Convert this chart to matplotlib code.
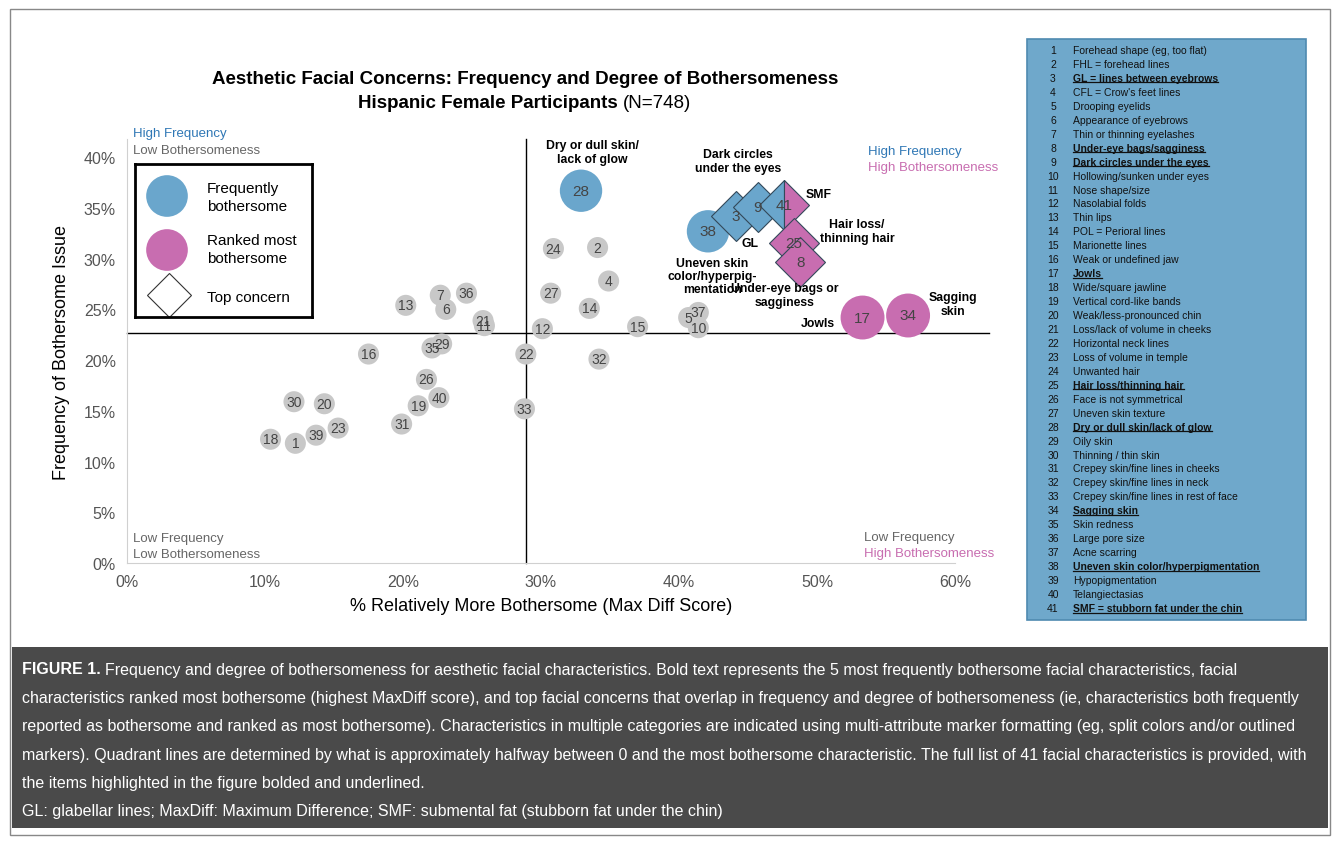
import matplotlib
matplotlib.use("Agg")
import matplotlib.pyplot as plt
from matplotlib.patches import Rectangle

plt.rcParams["font.family"] = ["Liberation Sans", "DejaVu Sans"]

W, H = 1341, 845
BLUE = "#6aa6cc"; PINK = "#c86db0"; GRAY = "#c8c8c8"

# ---- data ----
gray_ids = [1, 2, 4, 5, 6, 7, 10, 11, 12, 13, 14, 15, 16, 18, 19, 20, 21, 22, 23, 24, 26, 27, 29, 30, 31, 32, 33, 35, 36, 37, 39, 40]
gray_x = [12.2, 34.1, 34.9, 40.7, 23.1, 22.7, 41.4, 25.9, 30.1, 20.2, 33.5, 37.0, 17.5, 10.4, 21.1, 14.3, 25.8, 28.9, 15.3, 30.9, 21.7, 30.7, 22.8, 12.1, 19.9, 34.2, 28.8, 22.1, 24.6, 41.4, 13.7, 22.6]
gray_y = [11.8, 31.1, 27.8, 24.2, 25.0, 26.4, 23.2, 23.4, 23.1, 25.4, 25.1, 23.3, 20.6, 12.2, 15.5, 15.7, 23.9, 20.6, 13.3, 31.0, 18.1, 26.6, 21.6, 15.9, 13.7, 20.1, 15.2, 21.2, 26.6, 24.7, 12.6, 16.3]
freq_ids = [28, 38]; freq_x = [32.9, 42.1]; freq_y = [36.7, 32.7]
rank_ids = [17, 34]; rank_x = [53.3, 56.6]; rank_y = [24.2, 24.4]
top_ids = [3, 9, 41, 25, 8]
top_x = [44.1, 45.7, 47.6, 48.3, 48.8]
top_y = [34.2, 35.1, 35.3, 31.5, 29.7]
top_kind = ["freq", "freq", "both", "rank", "rank"]
quad_x, quad_y = 28.9, 22.7
x_ticks = [0, 10, 20, 30, 40, 50, 60]
y_ticks = [0, 5, 10, 15, 20, 25, 30, 35, 40]

items = ["Forehead shape (eg, too flat)", "FHL = forehead lines", "GL = lines between eyebrows",
         "CFL = Crow's feet lines", "Drooping eyelids", "Appearance of eyebrows", "Thin or thinning eyelashes",
         "Under-eye bags/sagginess", "Dark circles under the eyes", "Hollowing/sunken under eyes",
         "Nose shape/size", "Nasolabial folds", "Thin lips", "POL = Perioral lines", "Marionette lines",
         "Weak or undefined jaw", "Jowls", "Wide/square jawline", "Vertical cord-like bands",
         "Weak/less-pronounced chin", "Loss/lack of volume in cheeks", "Horizontal neck lines",
         "Loss of volume in temple", "Unwanted hair", "Hair loss/thinning hair", "Face is not symmetrical",
         "Uneven skin texture", "Dry or dull skin/lack of glow", "Oily skin", "Thinning / thin skin",
         "Crepey skin/fine lines in cheeks", "Crepey skin/fine lines in neck", "Crepey skin/fine lines in rest of face",
         "Sagging skin", "Skin redness", "Large pore size", "Acne scarring", "Uneven skin color/hyperpigmentation",
         "Hypopigmentation", "Telangiectasias", "SMF = stubborn fat under the chin"]
bold_items = [3, 8, 9, 17, 25, 28, 34, 38, 41]

fig = plt.figure(figsize=(W / 100, H / 100), dpi=100)
fig.patch.set_facecolor("white")
r = fig.canvas.get_renderer()

def fx(px): return px / W
def fy(py): return 1 - py / H

fig.add_artist(Rectangle((fx(10), fy(836)), fx(1320), 826 / H, transform=fig.transFigure,
                         fill=False, edgecolor="#888888", lw=1))

ax = fig.add_axes([fx(127), fy(564), (955 - 127) / W, (564 - 140) / H])
ax.set_xlim(0, 60); ax.set_ylim(0, 41.8)
for s in ["top", "right"]:
    ax.spines[s].set_visible(False)
for s in ["left", "bottom"]:
    ax.spines[s].set_color("#d0d0d0")
ax.set_xticks(x_ticks); ax.set_xticklabels([f"{v}%" for v in x_ticks])
ax.set_yticks(y_ticks); ax.set_yticklabels([f"{v}%" for v in y_ticks])
ax.tick_params(length=0, labelsize=11.5, colors="#555555", pad=8)
ax.set_xlabel("% Relatively More Bothersome (Max Diff Score)", fontsize=13, labelpad=6)
ax.set_ylabel("Frequency of Bothersome Issue", fontsize=13, labelpad=10)

ax.plot([0, 62.5], [quad_y, quad_y], color="black", lw=1, clip_on=False, zorder=1)
ax.plot([quad_x, quad_x], [0, 41.8], color="black", lw=1, clip_on=False, zorder=1)

ax.scatter(gray_x, gray_y, s=230, color=GRAY, edgecolor="none", zorder=3)
for i, x, y in zip(gray_ids, gray_x, gray_y):
    ax.text(x, y, str(i), ha="center", va="center", fontsize=10, color="#444444", zorder=4)
ax.scatter(freq_x, freq_y, s=930, color=BLUE, edgecolor="none", zorder=3)
for i, x, y in zip(freq_ids, freq_x, freq_y):
    ax.text(x, y, str(i), ha="center", va="center", fontsize=11, color="#444444", zorder=4)
ax.scatter(rank_x, rank_y, s=1000, color=PINK, edgecolor="none", zorder=3)
for i, x, y in zip(rank_ids, rank_x, rank_y):
    ax.text(x, y, str(i), ha="center", va="center", fontsize=11, color="#444444", zorder=4)
for i, x, y, k in zip(top_ids, top_x, top_y, top_kind):
    if k == "both":
        ax.plot(x, y, marker="D", ms=25, fillstyle="left", markerfacecolor=BLUE,
                markerfacecoloralt=PINK, markeredgecolor="#33495a", mew=0.8, zorder=3)
    else:
        ax.plot(x, y, marker="D", ms=25, color=BLUE if k == "freq" else PINK,
                markeredgecolor="#33495a", mew=0.8, zorder=3)
    ax.text(x, y, str(i), ha="center", va="center", fontsize=11, color="#444444", zorder=4)

# title
fig.text(fx(525), fy(80), "Aesthetic Facial Concerns: Frequency and Degree of Bothersomeness",
         ha="center", va="center", fontsize=13.5, fontweight="bold")
t1 = fig.text(0, fy(104), "Hispanic Female Participants ", ha="left", va="center", fontsize=13.5, fontweight="bold")
t2 = fig.text(0, fy(104), "(N=748)", ha="left", va="center", fontsize=13.5)
w1 = t1.get_window_extent(r).width; w2 = t2.get_window_extent(r).width
x0 = 525 - (w1 + w2) / 2
t1.set_x(fx(x0)); t2.set_x(fx(x0 + w1))

qs = 9.5
fig.text(fx(133), fy(134), "High Frequency", color="#2f77b5", fontsize=qs, va="center")
fig.text(fx(133), fy(151), "Low Bothersomeness", color="#666666", fontsize=qs, va="center")
fig.text(fx(868), fy(152), "High Frequency", color="#2f77b5", fontsize=qs, va="center")
fig.text(fx(868), fy(168), "High Bothersomeness", color=PINK, fontsize=qs, va="center")
fig.text(fx(133), fy(539), "Low Frequency", color="#666666", fontsize=qs, va="center")
fig.text(fx(133), fy(555), "Low Bothersomeness", color="#666666", fontsize=qs, va="center")
fig.text(fx(864), fy(538), "Low Frequency", color="#666666", fontsize=qs, va="center")
fig.text(fx(864), fy(554), "High Bothersomeness", color=PINK, fontsize=qs, va="center")

an = dict(fontsize=8.8, fontweight="bold", ha="center", va="center", linespacing=1.15)
fig.text(fx(592), fy(153), "Dry or dull skin/\nlack of glow", **an)
fig.text(fx(738), fy(162), "Dark circles\nunder the eyes", **an)
fig.text(fx(819), fy(195), "SMF", **an)
fig.text(fx(857), fy(232), "Hair loss/\nthinning hair", **an)
fig.text(fx(750), fy(244), "GL", **an)
fig.text(fx(712), fy(277), "Uneven skin\ncolor/hyperpig-\nmentation", **an)
fig.text(fx(785), fy(296), "Under-eye bags or\nsagginess", **an)
fig.text(fx(818), fy(324), "Jowls", **an)
fig.text(fx(953), fy(305), "Sagging\nskin", **an)

# legend box
lg = fig.add_axes([fx(135), fy(318), 177 / W, 153 / H])
lg.set_xlim(0, 177); lg.set_ylim(153, 0)
lg.set_xticks([]); lg.set_yticks([])
for s in lg.spines.values():
    s.set_linewidth(2); s.set_color("black")
lg.scatter([32], [32], s=900, color=BLUE, edgecolor="none")
lg.scatter([32], [86], s=900, color=PINK, edgecolor="none")
lg.plot([34], [131], marker="D", ms=22, markerfacecolor="white", markeredgecolor="#333333", mew=0.8)
lg.text(72, 33, "Frequently\nbothersome", fontsize=11, va="center", linespacing=1.35)
lg.text(72, 85, "Ranked most\nbothersome", fontsize=11, va="center", linespacing=1.35)
lg.text(72, 133, "Top concern", fontsize=11, va="center")

# item list panel
fig.add_artist(Rectangle((fx(1027), fy(621)), 279 / W, 581 / H, transform=fig.transFigure,
                         facecolor="#6fa8cb", edgecolor="#4f8ab0", lw=1.2))
for n, name in enumerate(items, start=1):
    py = 51 + (n - 1) * 13.95
    b = n in bold_items
    fig.text(fx(1053), fy(py), str(n), fontsize=7.5, ha="center", va="center", color="#111111")
    t = fig.text(fx(1073), fy(py), name, fontsize=7.5, va="center", color="#111111",
                 fontweight="bold" if b else "normal")
    if b:
        bb = t.get_window_extent(r)
        fig.add_artist(plt.Line2D([bb.x0 / W, bb.x1 / W], [bb.y0 / H + 0.0005] * 2,
                                  transform=fig.transFigure, color="#111111", lw=0.9))

# caption
fig.add_artist(Rectangle((fx(12), fy(829)), 1316 / W, (829 - 648) / H, transform=fig.transFigure,
                         facecolor="#4a4a4a", edgecolor="none"))
cap = ["Frequency and degree of bothersomeness for aesthetic facial characteristics. Bold text represents the 5 most frequently bothersome facial characteristics, facial",
       "characteristics ranked most bothersome (highest MaxDiff score), and top facial concerns that overlap in frequency and degree of bothersomeness (ie, characteristics both frequently",
       "reported as bothersome and ranked as most bothersome). Characteristics in multiple categories are indicated using multi-attribute marker formatting (eg, split colors and/or outlined",
       "markers). Quadrant lines are determined by what is approximately halfway between 0 and the most bothersome characteristic. The full list of 41 facial characteristics is provided, with",
       "the items highlighted in the figure bolded and underlined."]
# pick one font size so that the widest caption line fits the box
probe = fig.text(0, 0, cap[1], fontsize=12, alpha=0)
wid = probe.get_window_extent(r).width
probe.remove()
cs = 12 * 1278 / wid
tf = fig.text(fx(22), fy(670), "FIGURE 1. ", fontsize=cs, fontweight="bold", color="white", va="center")
wf = tf.get_window_extent(r).width
fig.text(fx(22 + wf), fy(670), cap[0], fontsize=cs, color="white", va="center")
for k, line in enumerate(cap[1:], start=1):
    fig.text(fx(22), fy(670 + k * 28.4), line, fontsize=cs, color="white", va="center")
fig.text(fx(22), fy(812), "GL: glabellar lines; MaxDiff: Maximum Difference; SMF: submental fat (stubborn fat under the chin)",
         fontsize=cs, color="white", va="center")

fig.savefig("out.png", dpi=100)
